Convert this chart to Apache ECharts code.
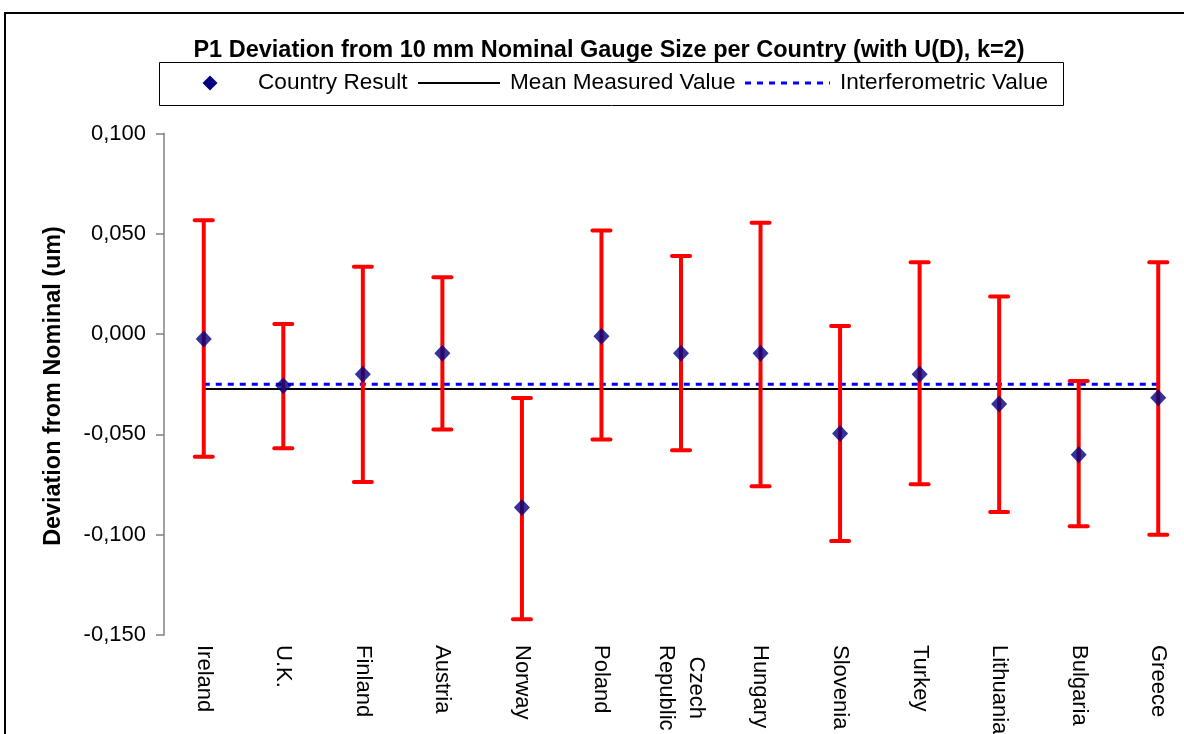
<!DOCTYPE html>
<html>
<head>
<meta charset="utf-8">
<script src="https://cdn.jsdelivr.net/npm/echarts@6/dist/echarts.min.js"></script>
<style>
html,body{margin:0;padding:0;background:#fff;}
#chart{width:1184px;height:734px;}
</style>
</head>
<body>
<div id="chart"></div>
<script>
const countries = ['Ireland','U.K.','Finland','Austria','Norway','Poland','Czech\nRepublic','Hungary','Slovenia','Turkey','Lithuania','Bulgaria','Greece'];
const countryResult = [-0.0024,-0.0257,-0.0200,-0.0096,-0.0865,-0.0011,-0.0096,-0.0096,-0.0496,-0.0200,-0.0348,-0.0601,-0.0317];
const upperLimit = [0.0568,0.0050,0.0336,0.0283,-0.0319,0.0516,0.0389,0.0555,0.0040,0.0358,0.0188,-0.0234,0.0358];
const lowerLimit = [-0.0611,-0.0569,-0.0737,-0.0475,-0.1422,-0.0526,-0.0579,-0.0759,-0.1031,-0.0749,-0.0887,-0.0958,-0.1000];
const meanMeasuredValue = -0.0274;
const interferometricValue = -0.0250;
const yTicks = {min:-0.15, max:0.10, interval:0.05};

const FONT = 'Liberation Sans, Arial, sans-serif';
const chart = echarts.init(document.getElementById('chart'), null, {renderer:'canvas'});

const option = {
  animation:false,
  backgroundColor:'#fff',
  title:{
    text:'P1 Deviation from 10 mm Nominal Gauge Size per Country (with U(D), k=2)',
    left:604, top:34, textAlign:'center',
    textStyle:{fontFamily:FONT, fontWeight:'bold', fontSize:23.5, color:'#000'}
  },
  grid:{left:164, top:133.5, width:1034, height:501.5, outerBoundsMode:'none', containLabel:false},
  xAxis:{
    type:'category', data:countries, boundaryGap:true,
    axisLine:{show:false}, axisTick:{show:false}, splitLine:{show:false},
    axisLabel:{
      rotate:-90, margin:10, interval:0, color:'#000', fontFamily:FONT, fontSize:22,
      formatter:function(v){ return v.split('\n').map(s=>'{c|'+s+'}').join('\n'); },
      rich:{c:{align:'center', fontFamily:FONT, fontSize:22, color:'#000', lineHeight:30}}
    }
  },
  yAxis:{
    type:'value', min:yTicks.min, max:yTicks.max, interval:yTicks.interval,
    axisLine:{show:true, lineStyle:{color:'#808080', width:1.5}},
    axisTick:{show:true, length:8, lineStyle:{color:'#808080', width:1.5}},
    splitLine:{show:false},
    axisLabel:{margin:18, color:'#000', fontFamily:FONT, fontSize:22,
      formatter:function(v){ let r=Math.round(v*1000)/1000; if(Math.abs(r)<1e-9) r=0; return r.toFixed(3).replace('.',','); }}
  },
  series:[
    {name:'Mean Measured Value', type:'line', data:countries.map(()=>meanMeasuredValue), symbol:'none', z:1,
     lineStyle:{color:'#000', width:2}},
    {name:'Interferometric Value', type:'line', data:countries.map(()=>interferometricValue), symbol:'none', z:1,
     lineStyle:{color:'#0000FF', width:3, type:[6,6]}},
    {name:'U(D)', type:'custom', z:2,
     data:countries.map((c,i)=>[i, upperLimit[i], lowerLimit[i]]),
     encode:{x:0, y:[1,2]},
     renderItem:function(params, api){
       const hi = api.coord([api.value(0), api.value(1)]);
       const lo = api.coord([api.value(0), api.value(2)]);
       const hw = 9;
       const st = {stroke:'#FF0000', lineWidth:4, lineCap:'round'};
       return {type:'group', children:[
         {type:'line', shape:{x1:hi[0], y1:hi[1], x2:lo[0], y2:lo[1]}, style:{stroke:'#FF0000', lineWidth:4}},
         {type:'line', shape:{x1:hi[0]-hw, y1:hi[1], x2:hi[0]+hw, y2:hi[1]}, style:st},
         {type:'line', shape:{x1:lo[0]-hw, y1:lo[1], x2:lo[0]+hw, y2:lo[1]}, style:st}
       ]};
     }},
    {name:'Country Result', type:'scatter', data:countryResult, symbol:'diamond', symbolSize:[16,17], z:3,
     itemStyle:{color:'#000080'}}
  ],
  graphic:[
    {type:'rect', shape:{x:5, y:13, width:1300, height:900}, style:{fill:null, stroke:'#000', lineWidth:2}, silent:true},
    {type:'rect', shape:{x:159.5, y:62.5, width:904, height:43}, style:{fill:'#fff', stroke:'#000', lineWidth:1}, silent:true},
    {type:'polygon', shape:{points:[[210,75.5],[217.5,83],[210,90.5],[202.5,83]]}, style:{fill:'#000080'}},
    {type:'text', x:258, y:83, style:{text:'Country Result', font:'22.6px '+FONT, fill:'#000', verticalAlign:'middle', align:'left'}},
    {type:'line', shape:{x1:418, y1:83, x2:500, y2:83}, style:{stroke:'#000', lineWidth:2}},
    {type:'text', x:510, y:83, style:{text:'Mean Measured Value', font:'22.6px '+FONT, fill:'#000', verticalAlign:'middle', align:'left'}},
    {type:'line', shape:{x1:745, y1:83, x2:830, y2:83}, style:{stroke:'#0000FF', lineWidth:3, lineDash:[6,6]}},
    {type:'text', x:840, y:83, style:{text:'Interferometric Value', font:'22.6px '+FONT, fill:'#000', verticalAlign:'middle', align:'left'}},
    {type:'text', x:54, y:386, rotation:Math.PI/2, style:{text:'Deviation from Nominal (um)', font:'bold 23.4px '+FONT, fill:'#000', verticalAlign:'middle', align:'center'}}
  ]
};
chart.setOption(option);
</script>
</body>
</html>
